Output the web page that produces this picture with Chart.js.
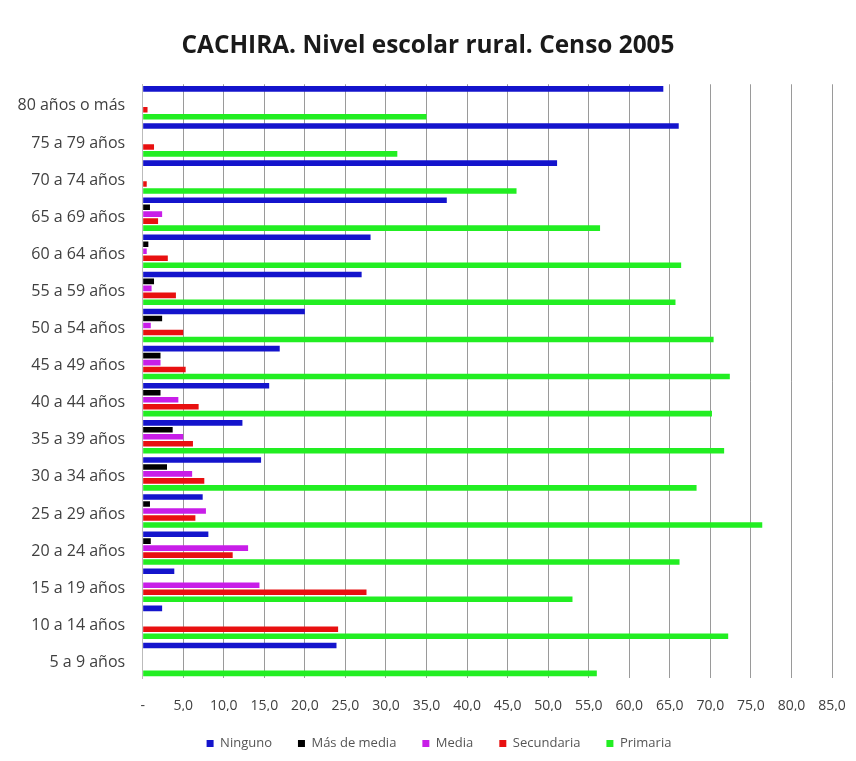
<!DOCTYPE html>
<html>
<head>
<meta charset="utf-8">
<title>CACHIRA. Nivel escolar rural. Censo 2005</title>
<script src="https://cdn.jsdelivr.net/npm/chart.js@4/dist/chart.umd.min.js"></script>
<style>
  html, body { margin: 0; padding: 0; background: #fff; }
  #wrap { width: 856px; height: 761px; }
</style>
</head>
<body>
<div id="wrap"><canvas id="myChart" width="856" height="761"></canvas></div>
<script>
'use strict';

// grupos de edad, de arriba hacia abajo
var edades = ['80 años o más', '75 a 79 años', '70 a 74 años', '65 a 69 años', '60 a 64 años',
    '55 a 59 años', '50 a 54 años', '45 a 49 años', '40 a 44 años', '35 a 39 años',
    '30 a 34 años', '25 a 29 años', '20 a 24 años', '15 a 19 años', '10 a 14 años', '5 a 9 años'];

// porcentajes
var ninguno    = [64.2, 66.1, 51.1, 37.5, 28.1, 27.0, 20.0, 16.9, 15.6, 12.3, 14.6, 7.4, 8.1, 3.9, 2.4, 23.9];
var masDeMedia = [0, 0, 0, 0.9, 0.7, 1.4, 2.4, 2.2, 2.2, 3.7, 3.0, 0.9, 1.0, 0, 0, 0];
var media      = [0, 0, 0, 2.4, 0.5, 1.1, 1.0, 2.2, 4.4, 5.0, 6.1, 7.8, 13.0, 14.4, 0, 0];
var secundaria = [0.6, 1.4, 0.5, 1.9, 3.1, 4.1, 5.0, 5.3, 6.9, 6.2, 7.6, 6.5, 11.1, 27.6, 24.1, 0];
var primaria   = [35.0, 31.4, 46.1, 56.4, 66.4, 65.7, 70.4, 72.4, 70.2, 71.7, 68.3, 76.4, 66.2, 53.0, 72.2, 56.0];

var ejeX = { min: 0, max: 85, paso: 5 };

function serie(nombre, datos, color) {
    return {
        label: nombre,
        data: datos,
        backgroundColor: color,
        borderWidth: 0,
        categoryPercentage: 0.94,
        barPercentage: 0.8
    };
}

// la leyenda usa mucho padding para separar los items, le recortamos el alto
// y la corremos un poco a la derecha como en el original
var leyendaBaja = {
    id: 'leyendaBaja',
    beforeUpdate: function (chart) {
        var leg = chart.legend;
        if (!leg || leg._recortada) return;
        var fitOrig = leg.fit;
        leg.fit = function () {
            fitOrig.apply(this, arguments);
            this.height = 47;
        };
        leg._recortada = true;
    },
    afterLayout: function (chart) {
        if (!chart.legend) return;
        chart.legend.left += 11;
        chart.legend.right += 11;
    }
};

var ctx = document.getElementById('myChart').getContext('2d');

var chart = new Chart(ctx, {
    type: 'bar',
    data: {
        labels: edades,
        datasets: [
            serie('Ninguno', ninguno, '#1414cc'),
            serie('Más de media', masDeMedia, '#000000'),
            serie('Media', media, '#c81ee8'),
            serie('Secundaria', secundaria, '#e81010'),
            serie('Primaria', primaria, '#22ee22')
        ]
    },
    options: {
        indexAxis: 'y',
        responsive: false,
        animation: false,
        layout: { padding: { left: 0, right: 0, top: 6, bottom: 3 } },
        plugins: {
            title: {
                display: true,
                text: 'CACHIRA. Nivel escolar rural. Censo 2005',
                color: '#1a1a1a',
                font: { family: 'Open Sans', size: 24.4, weight: 'bold' },
                padding: { top: 25, bottom: 24 }
            },
            legend: {
                position: 'bottom',
                labels: {
                    boxWidth: 7,
                    boxHeight: 7,
                    color: '#555',
                    font: { family: 'Open Sans', size: 13 },
                    padding: 26
                }
            },
            tooltip: { enabled: false }
        },
        scales: {
            x: {
                min: ejeX.min,
                max: ejeX.max,
                afterFit: function (scale) {
                    scale.height = 33;
                    scale.paddingRight = 24;
                },
                ticks: {
                    stepSize: ejeX.paso,
                    color: '#404040',
                    font: { family: 'Open Sans', size: 14 },
                    padding: 20,
                    maxRotation: 0,
                    callback: function (v) {
                        return v === 0 ? '-' : v.toFixed(1).replace('.', ',');
                    }
                },
                grid: { color: '#9a9a9a', drawTicks: false },
                border: { display: false }
            },
            y: {
                ticks: {
                    color: '#404040',
                    font: { family: 'Open Sans', size: 16 },
                    padding: 17.5,
                    labelOffset: 3
                },
                grid: { display: false, drawTicks: false },
                border: { display: true, color: '#bbbbbb' }
            }
        }
    },
    plugins: [leyendaBaja]
});
</script>
</body>
</html>
